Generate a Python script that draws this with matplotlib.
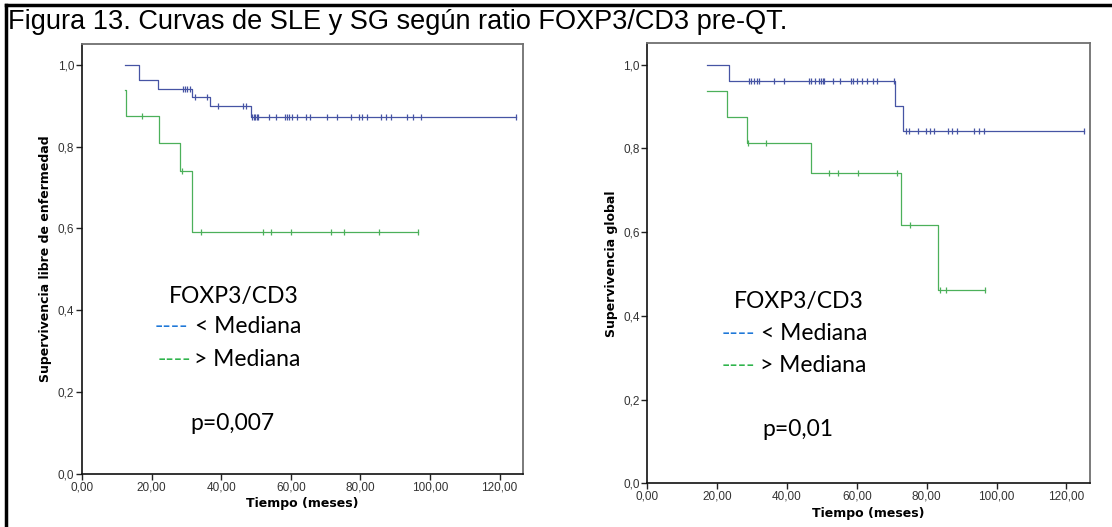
import matplotlib
matplotlib.use('Agg')
import matplotlib.pyplot as plt
from matplotlib.lines import Line2D
from matplotlib.ticker import FuncFormatter
import numpy as np

# SLE (left) curves: step start times and survival after each step
sle_blue_t = [12.4, 16.5, 21.8, 31.5, 36.8, 48.5]
sle_blue_s = [1.0, 0.962, 0.942, 0.922, 0.899, 0.873]
sle_blue_end = 124.7
sle_blue_cens = [29.0, 29.7, 30.3, 31.0, 32.4, 36.0, 39.0, 46.2, 47.0, 48.9, 49.4, 49.7,
                 50.2, 50.5, 53.6, 55.7, 58.2, 58.8, 59.4, 60.4, 61.8, 64.5, 65.4, 70.3,
                 73.2, 77.3, 79.5, 80.5, 81.9, 85.8, 87.3, 88.7, 93.4, 95.1, 97.3, 124.7]

sle_green_t = [12.4, 12.6, 22.2, 28.3, 31.5]
sle_green_s = [0.938, 0.875, 0.808, 0.740, 0.592]
sle_green_end = 96.5
sle_green_cens = [17.3, 28.6, 34.1, 52.0, 54.4, 60.2, 71.5, 75.2, 85.3, 96.5]

# SG (right) curves
sg_blue_t = [17.2, 23.5, 71.0, 73.2]
sg_blue_s = [1.0, 0.962, 0.902, 0.842]
sg_blue_end = 125.0
sg_blue_cens = [29.0, 29.8, 30.5, 31.3, 31.9, 36.3, 39.0, 46.3, 47.0, 48.1, 49.2, 49.7,
                50.2, 50.7, 53.1, 55.1, 58.2, 58.9, 59.9, 61.4, 62.8, 64.5, 65.7, 70.6,
                74.0, 75.0, 77.4, 79.8, 80.8, 82.0, 86.1, 87.3, 88.6, 93.4, 94.9, 96.3, 125.0]

sg_green_t = [17.2, 22.7, 28.5, 46.8, 72.5, 83.2]
sg_green_s = [0.938, 0.875, 0.8125, 0.740, 0.616, 0.462]
sg_green_end = 96.8
sg_green_cens = [28.8, 34.0, 51.9, 54.6, 60.2, 71.6, 75.2, 83.7, 85.4, 96.8]

x_ticks = [0, 20, 40, 60, 80, 100, 120]
y_ticks = [0.0, 0.2, 0.4, 0.6, 0.8, 1.0]

BLUE = '#4654a4'
GREEN = '#4cb05a'
DASH_BLUE = '#1f78d8'
DASH_GREEN = '#2fb44c'


def km_plot(ax, t, s, end, cens, color):
    xs = list(t) + [end]
    ys = list(s) + [s[-1]]
    ax.step(xs, ys, where='post', color=color, lw=0.9)
    idx = np.searchsorted(t, cens, side='right') - 1
    ax.plot(cens, np.array(s)[idx], ls='none', marker='|', ms=5, mew=0.9, color=color)


def style_axes(ax, ylabel):
    ax.set_xlim(0, 126.7)
    ax.set_ylim(0, 1.051)
    ax.set_xticks(x_ticks)
    ax.set_yticks(y_ticks)
    ax.xaxis.set_major_formatter(FuncFormatter(lambda v, p: ('%.2f' % v).replace('.', ',')))
    ax.yaxis.set_major_formatter(FuncFormatter(lambda v, p: ('%.1f' % v).replace('.', ',')))
    ax.tick_params(length=4, width=1, pad=1.5, labelsize=8.5, labelcolor='#333333',
                   color='#222222', labelfontfamily='Liberation Sans')
    for sp in ['top', 'right']:
        ax.spines[sp].set_color('#707070')
        ax.spines[sp].set_linewidth(1.3)
    for sp in ['left', 'bottom']:
        ax.spines[sp].set_color('#111111')
        ax.spines[sp].set_linewidth(1.2)
    ax.set_xlabel('Tiempo (meses)', fontsize=9, fontweight='bold', labelpad=3)
    ax.set_ylabel(ylabel, fontsize=9, fontweight='bold', labelpad=4)


def legend_text(ax, x_title, y_title, d1, t1, y1, d2, t2, y2, xp, yp, ptxt):
    kw = dict(transform=ax.transAxes, family='Lato', fontsize=16.5, va='baseline')
    ax.text(x_title, y_title, 'FOXP3/CD3', ha='center', color='black', **kw)
    ax.text(d1, y1, '----', ha='left', color=DASH_BLUE, **kw)
    ax.text(t1, y1, '< Mediana', ha='left', color='black', **kw)
    ax.text(d2, y2, '----', ha='left', color=DASH_GREEN, **kw)
    ax.text(t2, y2, '> Mediana', ha='left', color='black', **kw)
    ax.text(xp, yp, ptxt, ha='left', color='black', **kw)


fig = plt.figure(figsize=(11.12, 5.27), dpi=100)

ax1 = fig.add_axes([0.0737, 0.1015, 0.3966, 0.815])
km_plot(ax1, sle_blue_t, sle_blue_s, sle_blue_end, sle_blue_cens, BLUE)
km_plot(ax1, sle_green_t, sle_green_s, sle_green_end, sle_green_cens, GREEN)
style_axes(ax1, 'Supervivencia libre de enfermedad')
legend_text(ax1, 0.345, 0.398, 0.1655, 0.257, 0.327, 0.171, 0.254, 0.251, 0.246, 0.101, 'p=0,007')

ax2 = fig.add_axes([0.5821, 0.0829, 0.398, 0.835])
km_plot(ax2, sg_blue_t, sg_blue_s, sg_blue_end, sg_blue_cens, BLUE)
km_plot(ax2, sg_green_t, sg_green_s, sg_green_end, sg_green_cens, GREEN)
style_axes(ax2, 'Supervivencia global')
legend_text(ax2, 0.3416, 0.399, 0.168, 0.256, 0.326, 0.169, 0.2557, 0.253, 0.26, 0.1075, 'p=0,01')

fig.text(0.007, 1 - 29 / 527, 'Figura 13. Curvas de SLE y SG según ratio FOXP3/CD3 pre-QT.',
         family='Liberation Sans', fontsize=19.5, va='baseline', ha='left')

# outer frame (top and left only, as in the source crop)
fig.add_artist(Line2D([0.005, 1.0], [1 - 4.5 / 527, 1 - 4.5 / 527], color='black', lw=2.5))
fig.add_artist(Line2D([6 / 1112, 6 / 1112], [0, 1 - 4.5 / 527], color='black', lw=2.5))

fig.savefig('out.png', dpi=100)
